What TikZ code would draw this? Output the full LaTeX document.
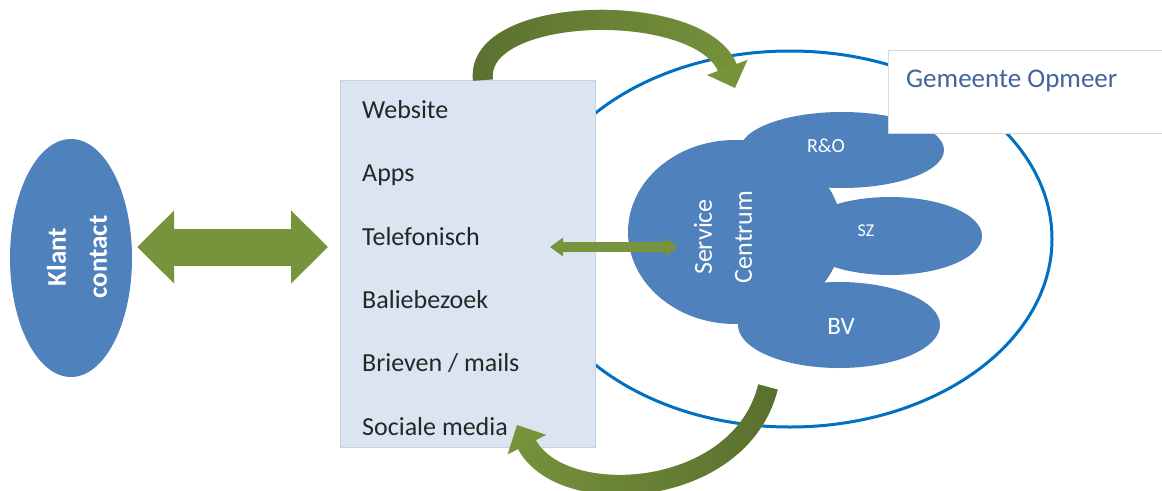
\documentclass[tikz,border=0pt]{standalone}
\usepackage{fontspec}
\setmainfont{Carlito}
\usepackage{tikz}
\usetikzlibrary{arrows.meta,shapes.geometric,fadings}
\definecolor{klantblauw}{HTML}{4F81BD}
\definecolor{lijnblauw}{HTML}{0070C0}
\definecolor{kanaalvlak}{HTML}{DBE4F1}
\definecolor{kanaalrand}{HTML}{C8D1DD}
\definecolor{pijlgroen}{HTML}{77933C}
\definecolor{booggroen}{HTML}{77933C}
\definecolor{donkergroen}{HTML}{5A7030}
\definecolor{tekstgrijs}{HTML}{262626}
\definecolor{titelblauw}{HTML}{42649C}

\tikzfading[name=vervaag rechts,left color=transparent!0,right color=transparent!100]
\tikzfading[name=vervaag links,left color=transparent!100,right color=transparent!0]

\tikzset{
  kanaal/.style={anchor=base west,inner sep=0pt,text=tekstgrijs,font=\fontsize{26}{31}\selectfont},
  wittekst/.style={text=white,inner sep=0pt},
  blokpijl/.style={pijlgroen,line width=37pt,>={Triangle[width=71pt,length=37pt]},<->},
  dunpijl/.style={pijlgroen,line width=10pt,>={Triangle[width=18pt,length=13pt]},<->},
  boogpijl/.style={booggroen,line width=20pt,>={Triangle[width=42pt,length=22pt]},->},
  boogschaduw/.style={donkergroen,line width=20pt,shorten >=22pt},
}

\begin{document}
\begin{tikzpicture}[x=1pt,y=-1pt]
  \useasboundingbox (0,0) rectangle (1162,490);
  % organisation outline
  \draw[lijnblauw,line width=3pt] (790,239) ellipse [x radius=262pt,y radius=188pt];

  % Klant contact
  \node[ellipse,fill=klantblauw,minimum width=122pt,minimum height=238pt,inner sep=0pt] (klant) at (71,258) {};
  \node[wittekst,rotate=90,align=center,font=\bfseries\fontsize{27}{41}\selectfont] (klanttekst) at (77,257) {Klant\\contact};

  % channels
  \node[draw=kanaalrand,fill=kanaalvlak,line width=0.6pt,anchor=north west,
        minimum width=255pt,minimum height=367pt,inner sep=0pt] (kanalen) at (340,80) {};
  \node[kanaal] (website) at (362,118) {Website};
  \node[kanaal] (apps) at (362,181) {Apps};
  \node[kanaal] (telefonisch) at (362,245) {Telefonisch};
  \node[kanaal] (balie) at (362,308) {Baliebezoek};
  \node[kanaal] (brieven) at (362,371) {Brieven / mails};
  \node[kanaal] (sociaal) at (362,435) {Sociale media};

  % Service Centrum with its departments
  \begin{scope}
    \fill[klantblauw] (735,232) ellipse [x radius=107pt,y radius=92pt];
    \fill[klantblauw] (842,150) ellipse [x radius=102pt,y radius=38pt];
    \fill[klantblauw] (890,236) ellipse [x radius=92pt,y radius=39pt];
    \fill[klantblauw] (839,325) ellipse [x radius=101pt,y radius=43pt];
  \end{scope}
  \node[wittekst,rotate=90,align=center,font=\fontsize{26}{40}\selectfont] (sc) at (723,237) {Service\\Centrum};
  \node[wittekst,font=\fontsize{20}{24}\selectfont] (ro) at (826,146) {R\&O};
  \node[wittekst,font=\fontsize{18}{22}\selectfont] (sz) at (866,231) {SZ};
  \node[wittekst,font=\fontsize{25}{30}\selectfont] (bv) at (841,326) {BV};

  % label of the organisation
  \node[draw=black!15,fill=white,line width=0.6pt,anchor=north west,
        minimum width=300pt,minimum height=83pt,inner sep=0pt] (gembox) at (888,50) {};
  \node[anchor=base west,inner sep=0pt,text=titelblauw,font=\fontsize{27}{32}\selectfont] (gemeente) at (906,87) {Gemeente Opmeer};

  % arrows
  \coordinate (tel-uit) at (550,247);
  \coordinate (sc-in) at (678,247);
  \coordinate (boven-start) at (483,80);
  \coordinate (boven-eind) at (735,88);
  \coordinate (onder-start) at (768,387);
  \coordinate (onder-eind) at (517,425);
  \draw[blokpijl,shorten <=5pt,shorten >=12pt] (klant.east |- 0,247) -- (kanalen.west |- 0,247);
  \draw[dunpijl] (tel-uit) -- (sc-in);
  \draw[boogpijl] (boven-start) .. controls (474,4) and (702,0) .. (boven-eind);
  \draw[boogschaduw,path fading=vervaag rechts] (boven-start) .. controls (474,4) and (702,0) .. (boven-eind);
  \draw[boogpijl] (onder-start) .. controls (740,500) and (560,510) .. (onder-eind);
  \draw[boogschaduw,path fading=vervaag links] (onder-start) .. controls (740,500) and (560,510) .. (onder-eind);
\end{tikzpicture}
\end{document}
